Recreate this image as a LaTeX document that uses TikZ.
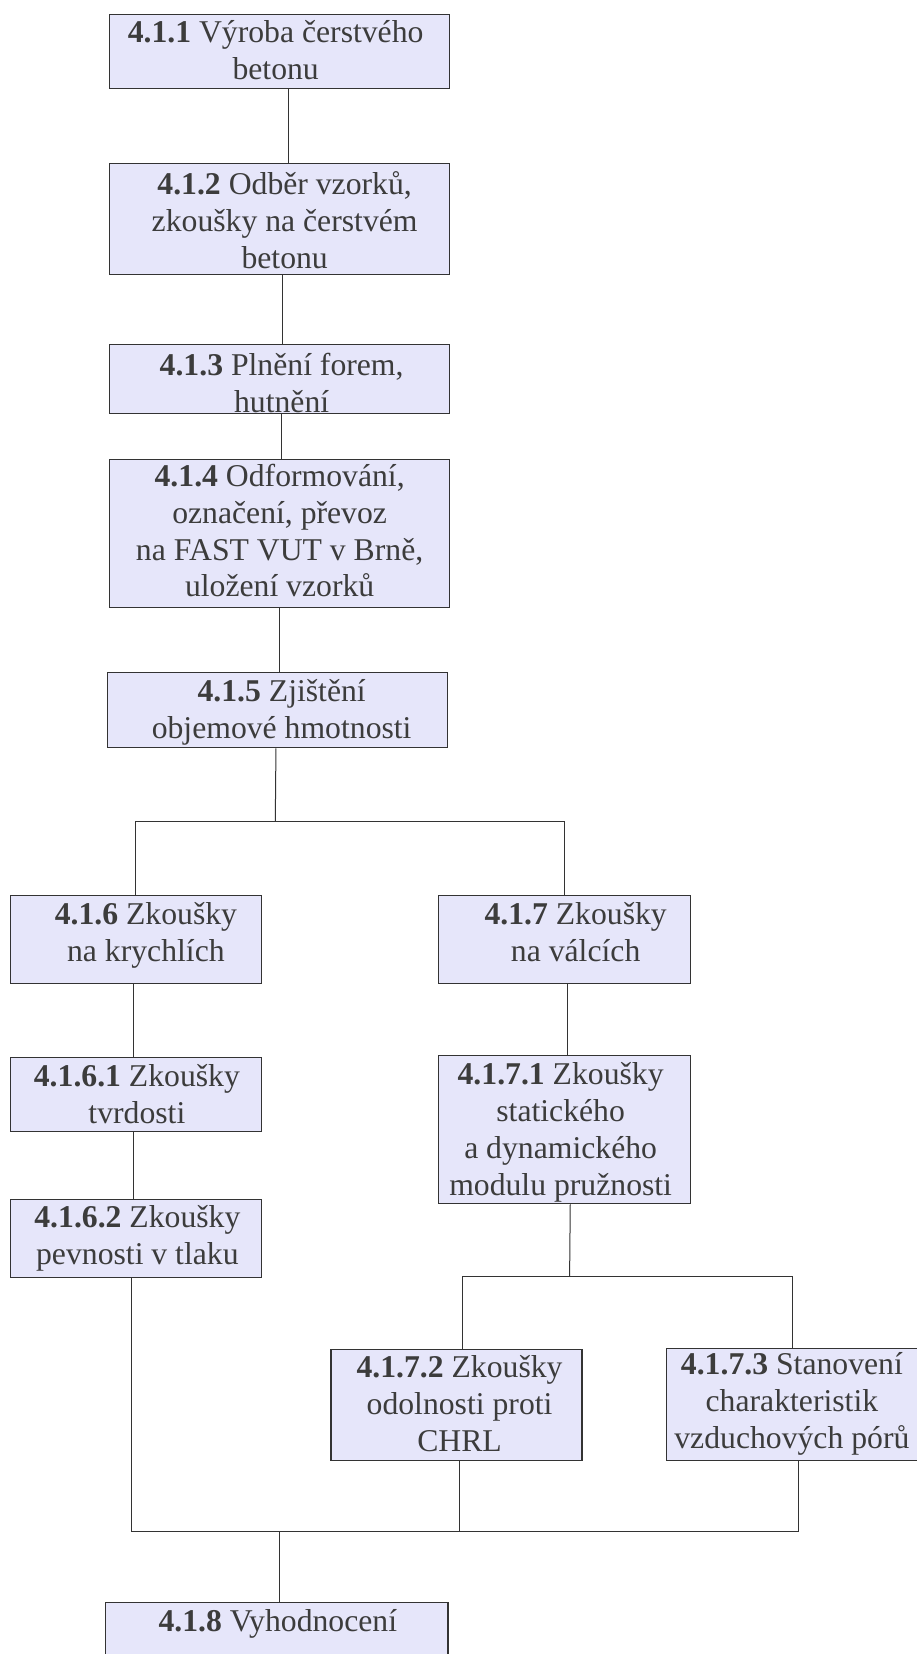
\documentclass[tikz,border=0pt]{standalone}
\usepackage{fontspec}
\setmainfont{Liberation Serif}
\definecolor{boxfill}{HTML}{E6E6FA}
\definecolor{boxline}{HTML}{333333}
\definecolor{txtcol}{HTML}{3C3C3C}
\definecolor{wirecol}{HTML}{333333}
\tikzset{
  box/.style={draw=boxline, fill=boxfill, line width=1.3pt, rectangle, inner sep=0pt, anchor=north west},
  txt/.style={text=txtcol, align=center, inner sep=0pt, anchor=north,
    font=\fontsize{31.7}{36.7}\selectfont},
  wire/.style={draw=wirecol, line width=1pt}
}
\begin{document}
\begin{tikzpicture}[x=1pt,y=-1pt]
\useasboundingbox (0,0) rectangle (917,1654);
\clip (0,0) rectangle (917,1654);
\fill[white] (0,0) rectangle (917,1654);
% boxes
\node[box, minimum width=340pt, minimum height=74pt] (b1) at (109,14) {};
\node[box, minimum width=340pt, minimum height=111pt] (b2) at (109,163) {};
\node[box, minimum width=340pt, minimum height=69pt] (b3) at (109,344) {};
\node[box, minimum width=340pt, minimum height=148pt] (b4) at (109,459) {};
\node[box, minimum width=340pt, minimum height=75pt] (b5) at (107,672) {};
\node[box, minimum width=251.5pt, minimum height=88pt] (b6) at (9.5,895) {};
\node[box, minimum width=252pt, minimum height=88pt] (b7) at (438,895) {};
\node[box, minimum width=251.5pt, minimum height=74pt] (b61) at (9.5,1057) {};
\node[box, minimum width=251.5pt, minimum height=78pt] (b62) at (9.5,1199) {};
\node[box, minimum width=252pt, minimum height=148pt] (b71) at (438,1055) {};
\node[box, minimum width=251pt, minimum height=111pt] (b72) at (330.4,1349) {};
\node[box, minimum width=252.5pt, minimum height=112pt] (b73) at (666,1348) {};
\node[box, minimum width=342.3pt, minimum height=90pt] (b8) at (105,1601.7) {};
% texts
\node[txt] (t1) at ([xshift=-4pt,yshift=-3pt]b1.north) {\strut\textbf{4.1.1} Výroba čerstvého\\betonu};
\node[txt] (t2) at ([xshift=5pt,yshift=-6pt]b2.north) {\strut\textbf{4.1.2} Odběr vzorků,\\zkoušky na čerstvém\\betonu};
\node[txt] (t3) at ([xshift=2pt,yshift=-6pt]b3.north) {\strut\textbf{4.1.3} Plnění forem,\\hutnění};
\node[txt] (t4) at ([xshift=0pt,yshift=-2pt]b4.north) {\strut\textbf{4.1.4} Odformování,\\označení, převoz\\na FAST VUT v Brně,\\uložení vzorků};
\node[txt] (t5) at ([xshift=4pt,yshift=-4pt]b5.north) {\strut\textbf{4.1.5} Zjištění\\objemové hmotnosti};
\node[txt] (t6) at ([xshift=10pt,yshift=-4pt]b6.north) {\strut\textbf{4.1.6} Zkoušky\\na krychlích};
\node[txt] (t7) at ([xshift=11pt,yshift=-4pt]b7.north) {\strut\textbf{4.1.7} Zkoušky\\na válcích};
\node[txt] (t61) at ([xshift=1pt,yshift=-4pt]b61.north) {\strut\textbf{4.1.6.1} Zkoušky\\tvrdosti};
\node[txt] (t62) at ([xshift=1.5pt,yshift=-3pt]b62.north) {\strut\textbf{4.1.6.2} Zkoušky\\pevnosti v tlaku};
\node[txt] (t71) at ([xshift=-4pt,yshift=-4pt]b71.north) {\strut\textbf{4.1.7.1} Zkoušky\\statického\\a dynamického\\modulu pružnosti};
\node[txt] (t72) at ([xshift=3pt,yshift=-3pt]b72.north) {\strut\textbf{4.1.7.2} Zkoušky\\odolnosti proti\\CHRL};
\node[txt] (t73) at ([xshift=-1pt,yshift=-1pt]b73.north) {\strut\textbf{4.1.7.3} Stanovení\\charakteristik\\vzduchových pórů};
\node[txt] (t8) at ([xshift=1pt,yshift=-4pt]b8.north) {\strut\textbf{4.1.8} Vyhodnocení};
% junction coordinates
\coordinate (j1) at (275.3,821);
\coordinate (j2) at (569.6,1276.7);
\coordinate (j3) at (279,1531);
% connectors
\draw[wire] ([xshift=8.7pt]b1.south) -- ([xshift=8.7pt]b1.south |- b2.north);
\draw[wire] ([xshift=3.3pt]b2.south) -- ([xshift=3.3pt]b2.south |- b3.north);
\draw[wire] ([xshift=2pt]b3.south) -- ([xshift=2pt]b3.south |- b4.north);
\draw[wire] ([xshift=0.3pt]b4.south) -- ([xshift=0.3pt]b4.south |- b5.north);
\draw[wire] ([xshift=-1.7pt]b5.south) -- (j1);
\draw[wire] (j1) -- (j1 -| b6.north) -- (b6.north);
\draw[wire] (j1) -- (j1 -| b7.north) -- (b7.north);
\draw[wire] ([xshift=-2pt]b6.south) -- ([xshift=-2pt]b6.south |- b61.north);
\draw[wire] ([xshift=3pt]b7.south) -- ([xshift=3pt]b7.south |- b71.north);
\draw[wire] ([xshift=-2pt]b61.south) -- ([xshift=-2pt]b61.south |- b62.north);
\draw[wire] ([xshift=5.6pt]b71.south) -- (j2);
\draw[wire] (j2) -- ([xshift=5.5pt]j2 -| b72.north) -- ([xshift=5.5pt]b72.north);
\draw[wire] (j2) -- ([xshift=-0.3pt]j2 -| b73.north) -- ([xshift=-0.3pt]b73.north);
\draw[wire] ([xshift=-4.3pt]b62.south) -- ([xshift=-4.3pt]b62.south |- j3) -- (j3);
\draw[wire] ([xshift=3.1pt]b72.south) -- ([xshift=3.1pt]b72.south |- j3) -- (j3);
\draw[wire] ([xshift=5.5pt]b73.south) -- ([xshift=5.5pt]b73.south |- j3) -- (j3);
\draw[wire] (j3) -- (j3 |- b8.north);
\end{tikzpicture}
\end{document}
